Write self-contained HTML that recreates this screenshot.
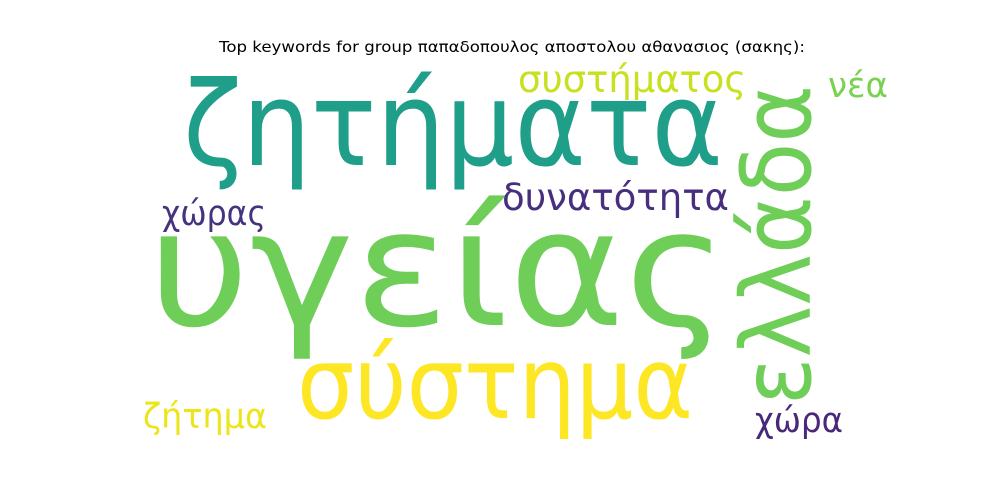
<!DOCTYPE html>
<html><head><meta charset="utf-8"><style>
html,body{margin:0;padding:0;background:#fff;}
svg{display:block;font-family:"DejaVu Sans","Liberation Sans",sans-serif;}
</style></head><body>
<svg width="1000" height="500" viewBox="0 0 1000 500">
<rect width="1000" height="500" fill="#fff"/>
<text x="512" y="52" font-size="15" text-anchor="middle" textLength="586" lengthAdjust="spacingAndGlyphs" fill="#000">Top keywords for group παπαδοπουλος αποστολου αθανασιος (σακης):</text>
<g id="words"></g>
</svg>
<script>
const words = ["υγείας","ζητήματα","σύστημα","ελλάδα","συστήματος","νέα","δυνατότητα","χώρας","ζήτημα","χώρα"];
const colors = ["#6ece58","#1f9e89","#fde725","#6ece58","#c8e020","#7ad151","#472f7d","#46337e","#ece51b","#482878"];
const sizes = [162,117,100,96,37,35,37,35,35,35];
const xs = [148,183,297,810,518,828,502,162,143,755];
const ys = [325,165,418,405,92,97,210,225,428,432];
const lens = [580,540,396,320,228,60,227,104,124,88];
const rot = [0,0,0,-90,0,0,0,0,0,0];
const g = document.getElementById('words');
const NS = 'http://www.w3.org/2000/svg';
words.forEach((w,i)=>{
  const t = document.createElementNS(NS,'text');
  
  
  t.setAttribute('x', xs[i]);
  t.setAttribute('y', ys[i]);
  t.setAttribute('font-size', sizes[i]);
  t.setAttribute('fill', colors[i]);
  t.setAttribute('textLength', lens[i]);
  t.setAttribute('lengthAdjust', 'spacingAndGlyphs');
  if (rot[i]) t.setAttribute('transform', `rotate(${rot[i]} ${xs[i]} ${ys[i]})`);
  t.textContent = w;
  g.appendChild(t);
});
</script>
</body></html>
